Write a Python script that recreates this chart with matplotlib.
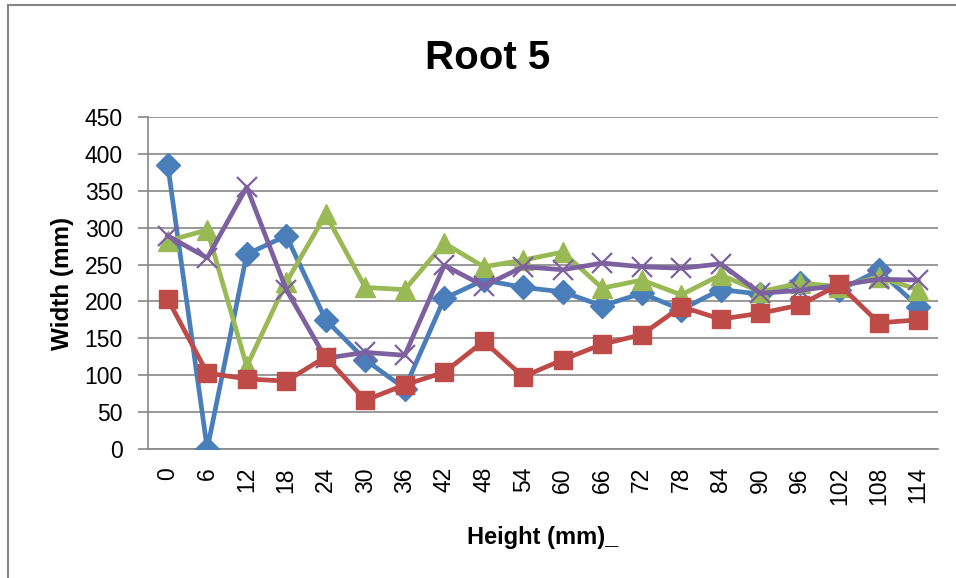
import matplotlib
matplotlib.use("Agg")
import matplotlib.pyplot as plt
from matplotlib.lines import Line2D

plt.rcParams['font.family'] = ['Liberation Sans', 'DejaVu Sans']

heights = [0, 6, 12, 18, 24, 30, 36, 42, 48, 54, 60, 66, 72, 78, 84, 90, 96, 102, 108, 114]
blue = [385, 0, 264, 289, 175, 121, 82, 204, 229, 219, 213, 194, 211, 189, 216, 210, 225, 215, 242, 193]
red = [203, 103, 95, 92, 125, 66, 87, 104, 146, 98, 121, 142, 155, 193, 176, 184, 195, 223, 171, 175]
green = [282, 297, 112, 226, 318, 219, 216, 279, 247, 256, 267, 218, 229, 209, 236, 213, 225, 220, 233, 216]
purple = [289, 259, 355, 216, 123, 131, 127, 249, 221, 247, 243, 252, 247, 245, 251, 211, 215, 222, 230, 229]

title = "Root 5"
xlabel = "Height (mm)_"
ylabel = "Width (mm)"

fig = plt.figure(figsize=(9.56, 5.78), dpi=100)
ax = fig.add_axes([148/956, 1-449/578, (938-148)/956, (449-117)/578])

x = list(range(len(heights)))
lw = 3.4
ax.plot(x, blue, color='#4A7EBB', lw=lw, marker='D', ms=12, zorder=3)
ax.plot(x, red, color='#BE4B48', lw=lw, marker='s', ms=13.5, zorder=4)
ax.plot(x, green, color='#98B954', lw=lw, marker='^', ms=15, zorder=3)
ax.plot(x, purple, color='#7D60A0', lw=lw, marker='x', ms=14, mew=1.6, zorder=3)

ax.set_xlim(-0.5, len(heights) - 0.5)
ax.set_ylim(0, 450)
ax.set_yticks(range(0, 451, 50))
ax.set_xticks(x)
ax.set_xticklabels([str(h) for h in heights], rotation=90, fontsize=16.5)
ax.tick_params(axis='y', labelsize=16.5, length=7, color='#878787', width=1.2, pad=11)
ax.tick_params(axis='x', length=0, pad=13)
ax.grid(axis='y', color='#878787', lw=1.2)
ax.set_axisbelow(True)
for s in ['top', 'right']:
    ax.spines[s].set_visible(False)
for s in ['left', 'bottom']:
    ax.spines[s].set_color('#878787')
    ax.spines[s].set_linewidth(1.2)

ax.set_ylabel(ylabel, fontsize=17.5, fontweight='bold', labelpad=8)
ax.set_xlabel(xlabel, fontsize=17, fontweight='bold', labelpad=15)
fig.text(488/956, 1-58/578, title, fontsize=29, fontweight='bold', ha='center', va='center')

# outer chart border
fig.add_artist(Line2D([8/956, 8/956], [0, 1-5/578], transform=fig.transFigure, color='#878787', lw=1.5))
fig.add_artist(Line2D([8/956, 1], [1-5/578, 1-5/578], transform=fig.transFigure, color='#878787', lw=1.5))

fig.savefig("out.png", dpi=100)
